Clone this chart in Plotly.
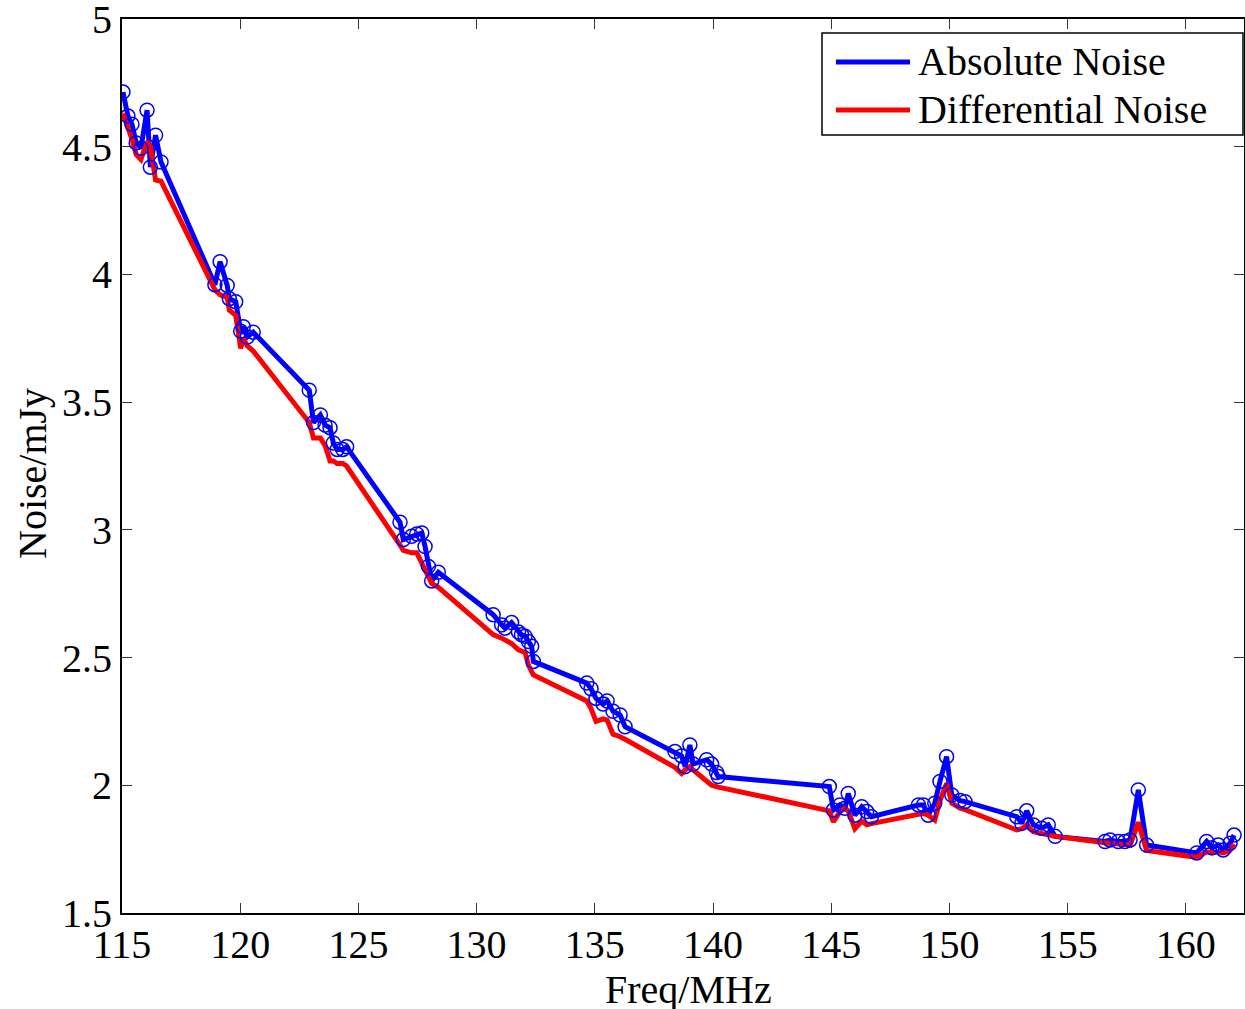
import plotly.graph_objects as go

freq = [115.04, 115.25, 115.42, 115.6, 115.8, 116.06, 116.2, 116.42, 116.65,
        118.93, 119.15, 119.45, 119.54, 119.81, 120.02, 120.13, 120.3, 120.55,
        122.92, 123.1, 123.39, 123.59, 123.8, 123.94, 124.1, 124.34, 124.5,
        126.76, 126.9, 127.25, 127.47, 127.68, 127.82, 127.96, 128.1, 128.38,
        130.7, 131.06, 131.2, 131.48, 131.77, 131.9, 132.05, 132.19, 132.33, 132.4,
        134.66, 134.84, 135.05, 135.35, 135.52, 135.77, 136.07, 136.28,
        138.39, 138.67, 138.82, 139.02, 139.16, 139.73, 139.94, 140.15, 140.22,
        144.92, 145.09, 145.37, 145.58, 145.72, 146.0, 146.29, 146.5, 146.7,
        148.69, 148.9, 149.1, 149.38, 149.6, 149.88, 150.1, 150.45, 150.66,
        152.85, 153.06, 153.27, 153.55, 153.9, 154.18, 154.47,
        156.58, 156.79, 157.14, 157.42, 157.64, 157.99, 158.34,
        160.46, 160.88, 161.1, 161.37, 161.58, 161.87, 162.04]

absolute_noise = [4.714, 4.62, 4.588, 4.515, 4.494, 4.643, 4.42, 4.545, 4.44,
                  3.96, 4.05, 3.957, 3.905, 3.893, 3.778, 3.795, 3.755, 3.774,
                  3.547, 3.42, 3.45, 3.41, 3.40, 3.34, 3.315, 3.315, 3.325,
                  3.03, 2.962, 2.975, 2.984, 2.988, 2.935, 2.857, 2.80, 2.834,
                  2.668, 2.628, 2.615, 2.637, 2.60, 2.589, 2.583, 2.563, 2.544, 2.485,
                  2.40, 2.378, 2.34, 2.318, 2.33, 2.29, 2.275, 2.229,
                  2.132, 2.115, 2.073, 2.158, 2.083, 2.10, 2.083, 2.05, 2.034,
                  1.995, 1.903, 1.923, 1.91, 1.968, 1.883, 1.916, 1.897, 1.877,
                  1.923, 1.923, 1.883, 1.93, 2.015, 2.112, 1.962, 1.94, 1.936,
                  1.877, 1.851, 1.90, 1.845, 1.832, 1.845, 1.80,
                  1.78, 1.786, 1.78, 1.78, 1.786, 1.982, 1.766,
                  1.735, 1.78, 1.755, 1.766, 1.747, 1.773, 1.805]

differential_noise = [4.63, 4.58, 4.53, 4.47, 4.45, 4.52, 4.50, 4.37, 4.365,
                      3.94, 3.92, 3.91, 3.86, 3.84, 3.71, 3.75, 3.72, 3.70,
                      3.42, 3.36, 3.36, 3.33, 3.27, 3.27, 3.26, 3.26, 3.25,
                      2.94, 2.92, 2.91, 2.91, 2.87, 2.84, 2.81, 2.79, 2.775,
                      2.59, 2.576, 2.57, 2.555, 2.53, 2.524, 2.52, 2.47, 2.44, 2.432,
                      2.33, 2.30, 2.25, 2.26, 2.255, 2.20, 2.19, 2.18,
                      2.07, 2.046, 2.06, 2.073, 2.06, 2.02, 2.00, 1.995, 1.993,
                      1.90, 1.857, 1.897, 1.91, 1.90, 1.83, 1.86, 1.845, 1.85,
                      1.89, 1.89, 1.883, 1.864, 1.94, 2.007, 1.93, 1.91, 1.905,
                      1.825, 1.83, 1.845, 1.818, 1.81, 1.805, 1.80,
                      1.775, 1.772, 1.77, 1.768, 1.765, 1.855, 1.745,
                      1.718, 1.74, 1.735, 1.74, 1.735, 1.745, 1.77]

x_ticks = [115, 120, 125, 130, 135, 140, 145, 150, 155, 160]
x_tick_labels = ["115", "120", "125", "130", "135", "140", "145", "150", "155", "160"]
y_ticks = [1.5, 2, 2.5, 3, 3.5, 4, 4.5, 5]
y_tick_labels = ["1.5", "2", "2.5", "3", "3.5", "4", "4.5", "5"]
series_names = ["Absolute Noise", "Differential Noise"]
series_colors = ["#0000ff", "#ff0000"]

FONT = "Liberation Serif"
W, H = 1245, 1009
L, R, T, B = 122, 1, 19, 96
PW, PH = W - L - R, H - T - B


def px_x(p):
    return (p - L) / PW


def px_y(p):
    return (H - B - p) / PH


fig = go.Figure()
fig.add_trace(go.Scatter(x=freq, y=absolute_noise, mode="lines", name=series_names[0],
                         line=dict(color=series_colors[0], width=5), showlegend=False))
fig.add_trace(go.Scatter(x=freq, y=differential_noise, mode="lines", name=series_names[1],
                         line=dict(color=series_colors[1], width=5), showlegend=False))
fig.add_trace(go.Scatter(x=freq, y=absolute_noise, mode="markers", showlegend=False,
                         marker=dict(symbol="circle-open", size=14, color=series_colors[0],
                                     line=dict(width=1.5, color=series_colors[0]))))

axis_common = dict(showline=True, linecolor="black", linewidth=2, mirror="ticks",
                   ticks="inside", ticklen=10, tickwidth=1, tickcolor="#333333",
                   showgrid=False, zeroline=False, automargin=False,
                   ticklabeloverflow="allow",
                   tickfont=dict(family=FONT, size=40, color="black"))

shapes = [dict(type="rect", xref="paper", yref="paper",
               x0=px_x(822), x1=px_x(1243), y0=px_y(135), y1=px_y(33),
               line=dict(color="black", width=1.5), fillcolor="white", layer="above")]
annotations = []
for i, (name, col) in enumerate(zip(series_names, series_colors)):
    yy = px_y(62 + 48 * i)
    shapes.append(dict(type="line", xref="paper", yref="paper",
                       x0=px_x(836), x1=px_x(910), y0=yy, y1=yy,
                       line=dict(color=col, width=5), layer="above"))
    annotations.append(dict(text=name, xref="paper", yref="paper", x=px_x(916), y=yy,
                            xanchor="left", yanchor="middle", showarrow=False,
                            font=dict(family=FONT, size=40, color="black")))

annotations.append(dict(text="Freq/MHz", xref="paper", yref="paper", x=px_x(688), y=px_y(989),
                        xanchor="center", yanchor="middle", showarrow=False,
                        font=dict(family=FONT, size=40, color="black")))
annotations.append(dict(text="Noise/mJy", xref="paper", yref="paper", x=px_x(32), y=px_y(474),
                        xanchor="center", yanchor="middle", showarrow=False, textangle=-90,
                        font=dict(family=FONT, size=40, color="black")))

fig.update_layout(
    width=W, height=H,
    margin=dict(l=L, r=R, t=T, b=B, autoexpand=False),
    paper_bgcolor="white", plot_bgcolor="white",
    font=dict(family=FONT, size=40, color="black"),
    xaxis=dict(range=[115, 162.46], tickvals=x_ticks, ticktext=x_tick_labels,
               ticklabelstandoff=-5, **axis_common),
    yaxis=dict(range=[1.5, 5], tickvals=y_ticks, ticktext=y_tick_labels, **axis_common),
    shapes=shapes,
    annotations=annotations,
    showlegend=False,
)

fig.write_html("out.html", config={"displayModeBar": False},
               post_script="document.body.style.margin='0';document.body.style.overflow='hidden';")
